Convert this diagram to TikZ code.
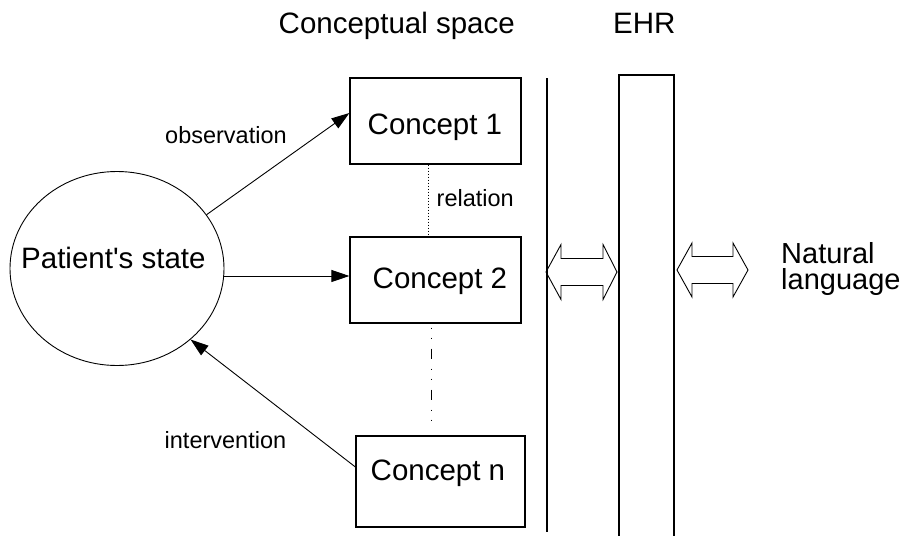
\documentclass[tikz,border=0pt]{standalone}
\usepackage{fontspec}
\setmainfont{Liberation Sans}
\usetikzlibrary{arrows.meta,shapes.geometric}
\begin{document}
\begin{tikzpicture}[x=1pt,y=-1pt,
  big/.style={font=\fontsize{29.5}{27}\selectfont, inner sep=0pt, anchor=base west},
  small/.style={font=\fontsize{23.5}{28}\selectfont, inner sep=0pt, anchor=base west},
  cbox/.style={draw, line width=1.2pt, rectangle, inner sep=0pt},
  arr/.style={line width=0.9pt, -{Triangle[length=18pt,width=12pt]}},
  thin/.style={line width=0.9pt}
]
\useasboundingbox (0,0) rectangle (906,536);
% titles
\node[big] (t1) at (278.5,33) {Conceptual space};
\node[big] (t2) at (613,33) {EHR};
% patient's state
\node[draw, ellipse, line width=0.9pt, minimum width=214pt, minimum height=194pt, inner sep=0pt] (ps) at (117,268.5) {};
\node[big] (pst) at (21,268) {Patient\textquotesingle s state};
% concept boxes
\node[cbox, minimum width=171pt, minimum height=86pt] (c1) at (435.5,121) {};
\node[big] (c1t) at (367.5,134) {Concept 1};
\node[cbox, minimum width=171pt, minimum height=86pt] (c2) at (435.5,280) {};
\node[big] (c2t) at (372.5,288) {Concept 2};
\node[cbox, minimum width=169pt, minimum height=91pt] (cn) at (440.5,481.5) {};
\node[big] (cnt) at (370.5,480) {Concept n};
% labels
\node[small] (obs) at (165,143) {observation};
\node[small] (rel) at (436.5,206) {relation};
\node[small] (int) at (164.5,448) {intervention};
% arrows
\draw[arr] (ps.31) -- ([yshift=8pt]c1.west);
\draw[arr] (ps.-4.5) -- (ps.-4.5 -| c2.west);
\draw[arr] ([yshift=14.5pt]cn.west) -- (ps.-44);
% relation lines
\draw[thin, dash pattern=on 1.5pt off 1.5pt] ([xshift=-7.5pt]c1.south) -- ([xshift=-7.5pt]c2.north);
\coordinate (dend) at (431,421);
\draw[thin, dash pattern=on 1pt off 9pt on 1pt off 10pt on 10pt off 10pt, dash phase=37pt] ([xshift=-4.5pt]c2.south) -- (dend);
% separator and EHR
\draw[line width=1.1pt] (547,78) -- (547,532);
\draw[line width=1.2pt] (619,537) -- (619,75) -- (674,75) -- (674,537);
% double arrows
\draw[thin, line join=miter] (546,272) -- (561,244.5) -- (561,258.5) -- (603,258.5) -- (603,244.5) -- (617,272) -- (603,299.5) -- (603,285.5) -- (561,285.5) -- (561,299.5) -- cycle;
\draw[thin, line join=miter] (677,270) -- (692,243) -- (692,256.5) -- (733,256.5) -- (733,243) -- (748,270) -- (733,297) -- (733,283.5) -- (692,283.5) -- (692,297) -- cycle;
% natural language
\node[big, font=\fontsize{29}{27}\selectfont] (nl1) at (781,263) {Natural};
\node[big, font=\fontsize{29}{27}\selectfont] (nl2) at (781,289.5) {language};
\end{tikzpicture}
\end{document}
